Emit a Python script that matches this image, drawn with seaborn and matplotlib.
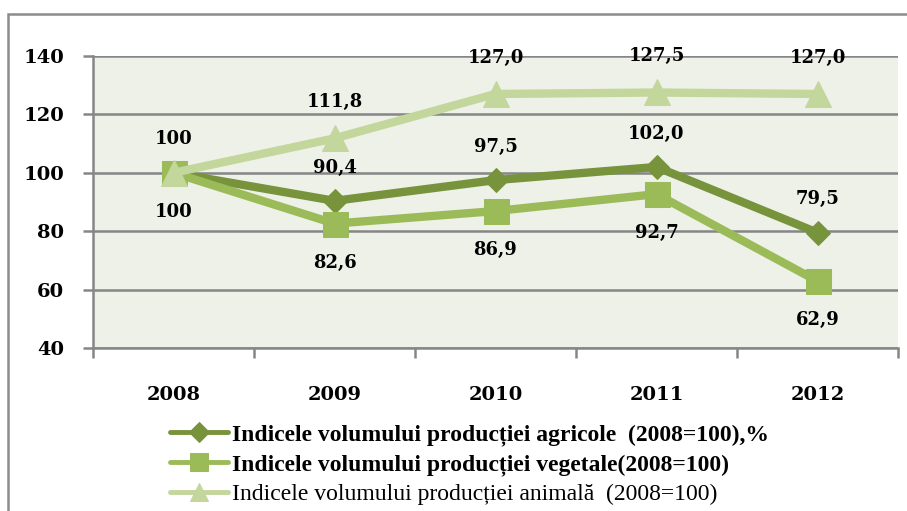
import matplotlib.pyplot as plt
import numpy as np
import pandas as pd
import seaborn as sns
from matplotlib.patches import Rectangle

# date
ani = ["2008", "2009", "2010", "2011", "2012"]
agricole = [100, 90.4, 97.5, 102.0, 79.5]
vegetale = [100, 82.6, 86.9, 92.7, 62.9]
animala = [100, 111.8, 127.0, 127.5, 127.0]

etichete_agricole = ["100", "90,4", "97,5", "102,0", "79,5"]
etichete_vegetale = ["100", "82,6", "86,9", "92,7", "62,9"]
etichete_animala = ["", "111,8", "127,0", "127,5", "127,0"]

nume = ["Indicele volumului producției agricole  (2008=100),%",
        "Indicele volumului producției vegetale(2008=100)",
        "Indicele volumului producției animală  (2008=100)"]

sns.set_theme(style="white")
plt.rcParams["font.family"] = ["DejaVu Serif"]
plt.rcParams["text.color"] = "black"
plt.rcParams["xtick.labelcolor"] = "black"
plt.rcParams["ytick.labelcolor"] = "black"

fig = plt.figure(figsize=(9.07, 5.11), dpi=100)
ax = fig.add_axes([93 / 907, 1 - 348 / 511, 805 / 907, 292 / 511])
ax.set_facecolor("#EEF1E8")

# chenar exterior
fig.patches.append(Rectangle((8 / 907, -0.05), 1.1, 1 - 14 / 511 + 0.05,
                             transform=fig.transFigure, fill=False,
                             edgecolor="#8C8C8C", linewidth=1.8, zorder=0))

x = np.arange(len(ani))
df = pd.DataFrame({"x": x, "agr": agricole, "veg": vegetale, "ani": animala})

lw = 6
sns.lineplot(data=df, x="x", y="agr", ax=ax, color="#77933C", linewidth=lw,
             marker="D", markersize=12.5, markeredgecolor="#77933C", label=nume[0], zorder=3)
sns.lineplot(data=df, x="x", y="veg", ax=ax, color="#9BBB59", linewidth=lw,
             marker="s", markersize=18, markeredgecolor="#9BBB59", label=nume[1], zorder=4)
sns.lineplot(data=df, x="x", y="ani", ax=ax, color="#C3D69B", linewidth=lw,
             marker="^", markersize=19, markeredgecolor="#C3D69B", label=nume[2], zorder=5)

# etichete
kw = dict(ha="center", va="center", fontsize=13, fontweight="bold", color="black", zorder=6)
for i in range(len(ani)):
    ax.annotate(etichete_agricole[i], (x[i], agricole[i]), xytext=(0, 24),
                textcoords="offset points", **kw)
    ax.annotate(etichete_vegetale[i], (x[i], vegetale[i]), xytext=(0, -28),
                textcoords="offset points", **kw)
    if etichete_animala[i]:
        ax.annotate(etichete_animala[i], (x[i], animala[i]), xytext=(0, 26),
                    textcoords="offset points", **kw)

ax.set_xlim(-0.5, len(ani) - 0.5)
ax.set_ylim(40, 140)
ax.set_yticks(range(40, 141, 20))
ax.set_xticks(x)
ax.set_xticklabels(ani)
ax.set_xticks(np.arange(-0.5, len(ani), 1), minor=True)
ax.set_xlabel("")
ax.set_ylabel("")

ax.yaxis.grid(True, color="#868686", linewidth=1.8)
ax.set_axisbelow(True)
for s in ["top", "right"]:
    ax.spines[s].set_visible(False)
for s in ["left", "bottom"]:
    ax.spines[s].set_color("#868686")
    ax.spines[s].set_linewidth(1.8)

ax.tick_params(axis="y", which="major", left=True, length=7, width=1.8, color="#868686",
               labelsize=14, pad=14)
ax.tick_params(axis="x", which="major", bottom=False, labelsize=14, pad=21)
ax.tick_params(axis="x", which="minor", bottom=True, length=7, width=1.8, color="#868686")
for t in ax.get_xticklabels() + ax.get_yticklabels():
    t.set_fontweight("bold")

# legenda
handles, labels = ax.get_legend_handles_labels()
ax.legend_.remove()
leg = fig.legend(handles, labels, loc="upper left",
                 bbox_to_anchor=(161 / 907, 1 - 414 / 511),
                 frameon=False, prop={"family": "Liberation Serif", "size": 17},
                 handlelength=2.45, handletextpad=0.15,
                 labelspacing=0.33, borderaxespad=0)
marimi = [10, 13, 13]
for i, (h, t) in enumerate(zip(leg.legend_handles, leg.get_texts())):
    t.set_fontweight("bold" if i < 2 else "normal")
    h.set_linewidth(3.5)
    h.set_markersize(marimi[i])

fig.savefig("out.png", dpi=100)
